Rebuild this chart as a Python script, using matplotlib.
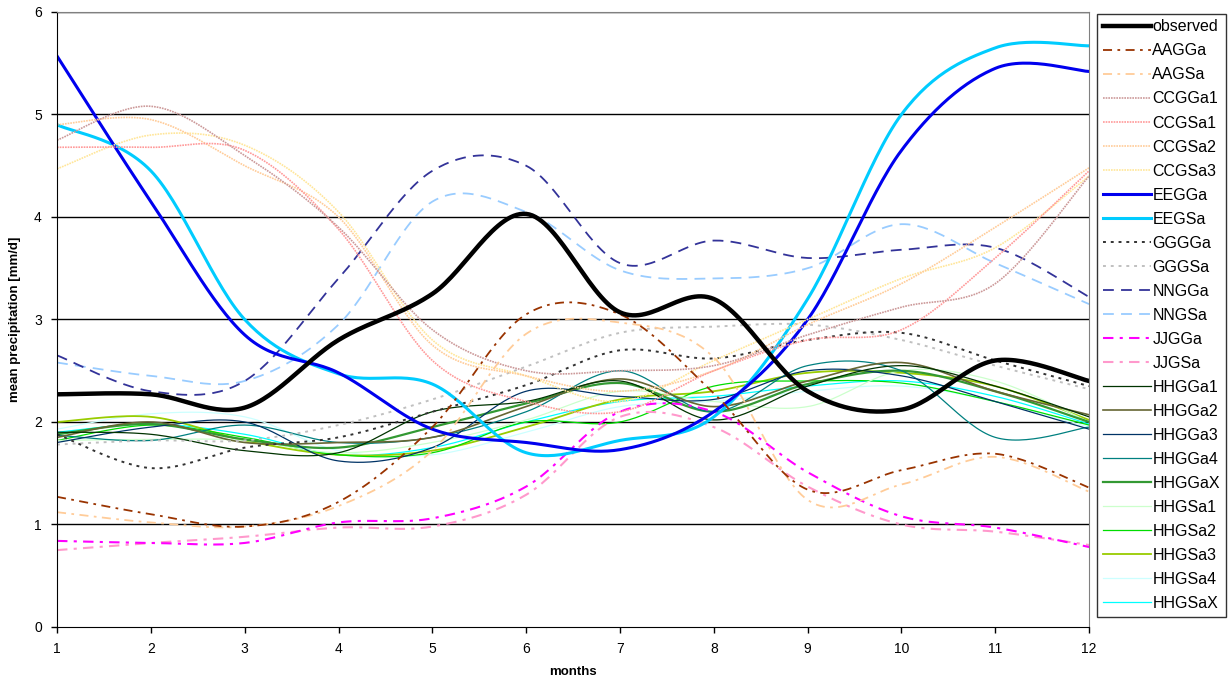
import numpy as np
import matplotlib.pyplot as plt

plt.rcParams['font.family'] = ['Liberation Sans', 'DejaVu Sans']

months = list(range(1, 13))

# monthly mean precipitation [mm/d]
observed = [2.27, 2.27, 2.14, 2.80, 3.25, 4.03, 3.07, 3.20, 2.30, 2.12, 2.60, 2.40]
AAGGa = [1.27, 1.10, 0.98, 1.22, 1.95, 3.05, 3.05, 2.28, 1.34, 1.53, 1.69, 1.36]
AAGSa = [1.12, 1.02, 0.98, 1.18, 1.72, 2.86, 2.97, 2.63, 1.24, 1.39, 1.66, 1.32]
CCGGa1 = [4.75, 5.08, 4.60, 3.90, 2.90, 2.50, 2.50, 2.55, 2.85, 3.12, 3.35, 4.40]
CCGSa1 = [4.68, 4.68, 4.65, 3.88, 2.60, 2.20, 2.10, 2.50, 2.80, 2.90, 3.60, 4.45]
CCGSa2 = [4.90, 4.95, 4.50, 4.00, 2.75, 2.45, 2.30, 2.50, 2.95, 3.35, 3.90, 4.48]
CCGSa3 = [4.47, 4.80, 4.70, 4.05, 2.80, 2.45, 2.20, 2.60, 3.00, 3.40, 3.70, 4.40]
EEGGa = [5.57, 4.15, 2.85, 2.48, 1.93, 1.80, 1.73, 2.10, 3.00, 4.65, 5.45, 5.42]
EEGSa = [4.90, 4.45, 3.00, 2.47, 2.37, 1.70, 1.82, 2.05, 3.20, 5.00, 5.65, 5.67]
GGGGa = [1.88, 1.55, 1.75, 1.85, 2.10, 2.36, 2.70, 2.62, 2.80, 2.87, 2.60, 2.35]
GGGSa = [1.78, 1.82, 1.82, 1.97, 2.22, 2.54, 2.87, 2.93, 2.95, 2.80, 2.55, 2.32]
NNGGa = [2.65, 2.30, 2.40, 3.40, 4.45, 4.50, 3.55, 3.77, 3.60, 3.68, 3.70, 3.22]
NNGSa = [2.58, 2.45, 2.40, 2.95, 4.15, 4.05, 3.48, 3.40, 3.50, 3.93, 3.55, 3.15]
JJGGa = [0.84, 0.82, 0.82, 1.02, 1.06, 1.37, 2.10, 2.10, 1.51, 1.08, 0.97, 0.78]
JJGSa = [0.75, 0.82, 0.88, 0.97, 0.98, 1.29, 2.05, 1.95, 1.37, 1.00, 0.93, 0.80]
HHGGa1 = [1.90, 1.88, 1.72, 1.70, 2.10, 2.20, 2.40, 2.02, 2.35, 2.55, 2.35, 2.05]
HHGGa2 = [1.85, 2.00, 1.80, 1.80, 1.85, 2.15, 2.42, 2.15, 2.40, 2.58, 2.30, 2.07]
HHGGa3 = [1.80, 1.95, 2.00, 1.62, 1.75, 2.30, 2.25, 2.22, 2.50, 2.45, 2.20, 1.93]
HHGGa4 = [1.87, 1.82, 1.97, 1.80, 1.85, 2.10, 2.50, 2.10, 2.55, 2.50, 1.85, 1.95]
HHGGaX = [1.88, 1.98, 1.83, 1.75, 1.95, 2.18, 2.38, 2.10, 2.37, 2.50, 2.30, 2.00]
HHGSa1 = [1.82, 1.83, 1.82, 1.70, 1.80, 2.02, 2.30, 2.20, 2.15, 2.50, 2.40, 2.00]
HHGSa2 = [1.82, 1.97, 1.85, 1.68, 1.70, 2.00, 2.00, 2.35, 2.40, 2.38, 2.20, 1.97]
HHGSa3 = [2.00, 2.05, 1.82, 1.68, 1.72, 1.95, 2.22, 2.30, 2.48, 2.48, 2.35, 2.02]
HHGSa4 = [1.93, 2.08, 2.05, 1.72, 1.68, 1.90, 2.15, 2.20, 2.30, 2.35, 2.20, 1.95]
HHGSaX = [1.90, 1.98, 1.88, 1.68, 1.75, 2.00, 2.20, 2.25, 2.35, 2.40, 2.25, 1.98]

dashdot = (0, (5, 3, 1.5, 3))
fine = (0, (1, 0.6))
dots = (0, (1.5, 2.5))
dashes = (0, (6, 4))

# name, values, colour, width, style
series = [
    ('observed', observed, 'black', 3.2, '-'),
    ('AAGGa', AAGGa, '#993300', 1.3, dashdot),
    ('AAGSa', AAGSa, '#ffcc99', 1.3, dashdot),
    ('CCGGa1', CCGGa1, '#cc9999', 1.2, fine),
    ('CCGSa1', CCGSa1, '#ff9999', 1.2, fine),
    ('CCGSa2', CCGSa2, '#ffcc99', 1.2, fine),
    ('CCGSa3', CCGSa3, '#ffe699', 1.2, fine),
    ('EEGGa', EEGGa, '#0000ee', 2.2, '-'),
    ('EEGSa', EEGSa, '#00ccff', 2.2, '-'),
    ('GGGGa', GGGGa, '#333333', 1.4, dots),
    ('GGGSa', GGGSa, '#c0c0c0', 1.4, dots),
    ('NNGGa', NNGGa, '#333399', 1.3, dashes),
    ('NNGSa', NNGSa, '#99ccff', 1.3, dashes),
    ('JJGGa', JJGGa, '#ff00ff', 1.5, dashdot),
    ('JJGSa', JJGSa, '#ff99cc', 1.5, dashdot),
    ('HHGGa1', HHGGa1, '#003300', 0.9, '-'),
    ('HHGGa2', HHGGa2, '#666633', 1.2, '-'),
    ('HHGGa3', HHGGa3, '#003366', 0.9, '-'),
    ('HHGGa4', HHGGa4, '#008080', 0.9, '-'),
    ('HHGGaX', HHGGaX, '#339933', 1.6, '-'),
    ('HHGSa1', HHGSa1, '#ccffcc', 0.9, '-'),
    ('HHGSa2', HHGSa2, '#00dd00', 0.9, '-'),
    ('HHGSa3', HHGSa3, '#99cc00', 1.3, '-'),
    ('HHGSa4', HHGSa4, '#ccffff', 0.9, '-'),
    ('HHGSaX', HHGSaX, '#00ffff', 0.9, '-'),
]


def smooth(x, y, n=30):
    # Excel-like smoothed line (Catmull-Rom through the points)
    x = np.asarray(x, float)
    y = np.asarray(y, float)
    px = np.concatenate([[x[0]], x, [x[-1]]])
    py = np.concatenate([[y[0]], y, [y[-1]]])
    xs, ys = [], []
    t = np.linspace(0, 1, n, endpoint=False)
    for i in range(1, len(px) - 2):
        for p, out in ((px, xs), (py, ys)):
            p0, p1, p2, p3 = p[i - 1], p[i], p[i + 1], p[i + 2]
            out.extend(0.5 * ((2 * p1) + (-p0 + p2) * t
                              + (2 * p0 - 5 * p1 + 4 * p2 - p3) * t ** 2
                              + (-p0 + 3 * p1 - 3 * p2 + p3) * t ** 3))
    xs.append(x[-1])
    ys.append(y[-1])
    return xs, ys


fig = plt.figure(figsize=(12.32, 6.89), dpi=100)
ax = fig.add_axes([0.0463, 0.090, 0.8377, 0.8926])

for y in range(1, 7):
    ax.axhline(y, color='black', lw=1.0, zorder=1)

for name, vals, col, lw, ls in series[::-1]:
    sx, sy = smooth(months, vals)
    ax.plot(sx, sy, color=col, lw=lw, linestyle=ls, label=name, zorder=2)

ax.set_xlim(1, 12)
ax.set_ylim(0, 6)
ax.set_xticks(months)
ax.set_yticks(range(0, 7))
ax.tick_params(labelsize=10, length=4, width=1, direction='out', pad=7)
ax.spines['top'].set_color('#808080')
ax.spines['right'].set_color('#808080')
ax.set_xlabel('months', fontsize=9.5, fontweight='bold', labelpad=7)
ax.set_ylabel('mean precipitation [mm/d]', fontsize=9.5, fontweight='bold', labelpad=9)

handles, labels = ax.get_legend_handles_labels()
leg = ax.legend(handles[::-1], labels[::-1], loc='upper left', bbox_to_anchor=(1.008, 0.997),
                frameon=True, fancybox=False, edgecolor='black', fontsize=11.5,
                handlelength=3.0, handletextpad=0.1, labelspacing=0.565,
                borderpad=0.35, borderaxespad=0)
leg.get_frame().set_linewidth(1.0)

fig.savefig('out.png', dpi=100)
